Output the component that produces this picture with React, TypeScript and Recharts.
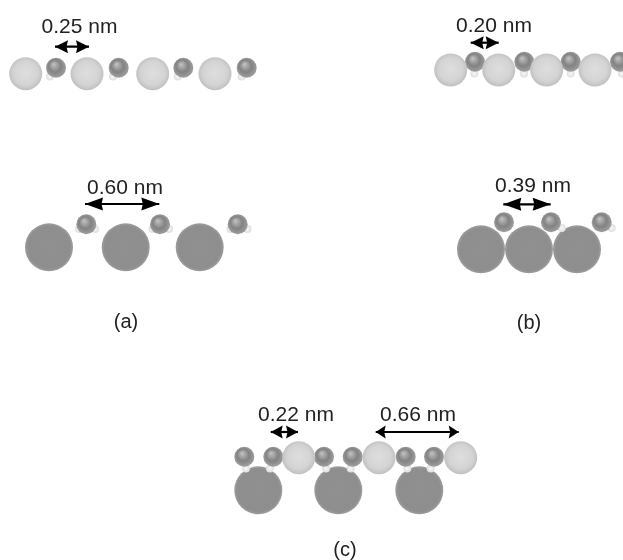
import React from "react";
import { ScatterChart, Scatter, XAxis, YAxis } from "recharts";

const W = 623;
const H = 560;

type P = { x: number; y: number };
const pts = (y: number, xs: number[]): P[] => xs.map((x) => ({ x, y }));

// Large dark atoms
const darkAtoms: P[] = [
  ...pts(247.3, [49, 125.7, 199.7]),
  ...pts(249.3, [481, 529, 577]),
  ...pts(490.3, [258.3, 338.3, 419.3]),
];
// Large light atoms
const lightAtoms: P[] = [
  ...pts(73.7, [25.7, 87, 152.7, 215]),
  ...pts(70, [450.7, 498.7, 546.7, 595]),
  ...pts(457.7, [298.7, 379, 460.7]),
];
// Small dark atoms
const smallAtoms: P[] = [
  ...pts(67.7, [56, 118.7, 183.3, 246.7]),
  ...pts(61.7, [475, 524.3, 570.7, 620]),
  ...pts(224.3, [86.3, 160, 237.7]),
  ...pts(222.3, [504, 551, 601.7]),
  ...pts(456.7, [244.3, 273.3, 324, 352.7, 405.7, 434]),
];
// Tiny white atoms
const tinyAtoms: P[] = [
  ...pts(76.5, [50, 113, 177.7, 241.7]),
  ...pts(73.5, [474.3, 524, 570.7, 622]),
  ...pts(229, [79, 95, 152.5, 169, 230.5, 247.5]),
  ...pts(228, [561.7, 611.7]),
  ...pts(468.5, [246, 270, 326, 350.7, 407.3, 430.7]),
];

const distanceLabels = [
  { x: 79.5, y: 25, label: "0.25 nm" },
  { x: 494, y: 24, label: "0.20 nm" },
  { x: 125, y: 186, label: "0.60 nm" },
  { x: 533, y: 184, label: "0.39 nm" },
  { x: 296, y: 413, label: "0.22 nm" },
  { x: 418, y: 413, label: "0.66 nm" },
];
const panelLabels = [
  { x: 126, y: 321, label: "(a)" },
  { x: 529, y: 322, label: "(b)" },
  { x: 345, y: 549, label: "(c)" },
];

const arrows = [
  { y: 46.7, from: 55, to: 89 },
  { y: 42.7, from: 470.7, to: 498.7 },
  { y: 204, from: 85, to: 159.3 },
  { y: 204.3, from: 503.3, to: 550.7 },
  { y: 432, from: 270.7, to: 298 },
  { y: 432, from: 375.7, to: 458.7 },
];
const arrowHeadLengths = [13, 13, 18, 18, 12, 10];

const circle = (r: number, fill: string) => (props: any) =>
  <circle cx={props.cx} cy={props.cy} r={r} fill={fill} />;

const textShape = (size: number) => (props: any) => (
  <text
    x={props.cx}
    y={props.cy}
    textAnchor="middle"
    dominantBaseline="central"
    fontFamily="Liberation Sans"
    fontSize={size}
    fill="#222"
  >
    {props.payload.label}
  </text>
);

const arrowHead = (len: number) => (props: any) => {
  const { cx, cy, payload } = props;
  const d = payload.dir;
  return (
    <polygon
      points={`${cx},${cy} ${cx - d * len},${cy - 6.5} ${cx - d * (len - 1.5)},${cy} ${cx - d * len},${cy + 6.5}`}
      fill="#000"
    />
  );
};

export default function App() {
  return (
    <div style={{ position: "absolute", left: 0, top: 0, width: W, height: H, filter: "blur(0.4px)" }}>
      <ScatterChart width={W} height={H} margin={{ top: 0, right: 0, bottom: 0, left: 0 }}>
        <defs>
          <radialGradient id="lightG" cx="50%" cy="48%" r="55%">
            <stop offset="0%" stopColor="#dedede" />
            <stop offset="65%" stopColor="#d4d4d4" />
            <stop offset="100%" stopColor="#bcbcbc" />
          </radialGradient>
          <radialGradient id="darkG" cx="50%" cy="50%" r="52%">
            <stop offset="0%" stopColor="#909090" />
            <stop offset="85%" stopColor="#8e8e8e" />
            <stop offset="100%" stopColor="#a4a4a4" />
          </radialGradient>
          <radialGradient id="smallG" cx="50%" cy="50%" r="55%" fx="38%" fy="32%">
            <stop offset="0%" stopColor="#c4c4c4" />
            <stop offset="55%" stopColor="#828282" />
            <stop offset="100%" stopColor="#a4a4a4" />
          </radialGradient>
          <radialGradient id="tinyG" cx="50%" cy="50%" r="55%">
            <stop offset="0%" stopColor="#f8f8f8" />
            <stop offset="100%" stopColor="#dcdcdc" />
          </radialGradient>
        </defs>
        <XAxis type="number" dataKey="x" domain={[0, W]} hide />
        <YAxis type="number" dataKey="y" domain={[0, H]} reversed hide />
        <Scatter data={darkAtoms} shape={circle(24, "url(#darkG)")} isAnimationActive={false} />
        <Scatter data={tinyAtoms} shape={circle(4, "url(#tinyG)")} isAnimationActive={false} />
        <Scatter data={smallAtoms} shape={circle(10, "url(#smallG)")} isAnimationActive={false} />
        <Scatter data={lightAtoms} shape={circle(16.5, "url(#lightG)")} isAnimationActive={false} />
        {arrows.map((a, i) => (
          <Scatter
            key={i}
            data={[
              { x: a.from, y: a.y, dir: -1 },
              { x: a.to, y: a.y, dir: 1 },
            ]}
            line={{ stroke: "#000", strokeWidth: 2.2 }}
            shape={arrowHead(arrowHeadLengths[i])}
            isAnimationActive={false}
          />
        ))}
        <Scatter data={distanceLabels} shape={textShape(21)} isAnimationActive={false} />
        <Scatter data={panelLabels} shape={textShape(20)} isAnimationActive={false} />
      </ScatterChart>
    </div>
  );
}
